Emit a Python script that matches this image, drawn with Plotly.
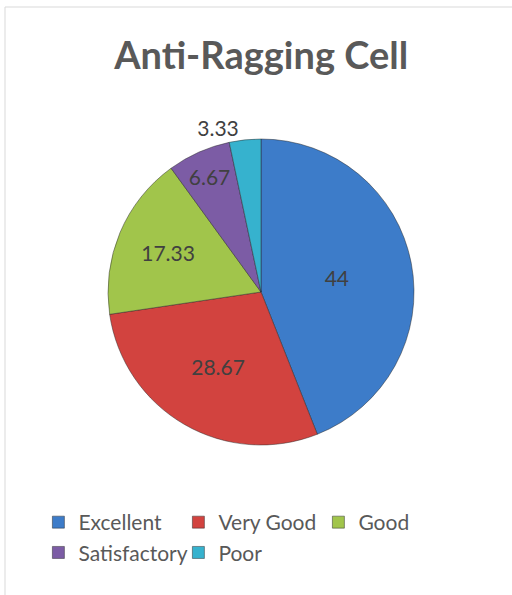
import plotly.graph_objects as go

categories = ["Excellent", "Very Good", "Good", "Satisfactory", "Poor"]
values = [44, 28.67, 17.33, 6.67, 3.33]
colors = ["#3D7CC9", "#D2433F", "#A1C54B", "#7C5CA5", "#36B2CE"]

W, H = 512, 595
cx, cy, r = 261, 292, 153

fig = go.Figure(go.Pie(
    labels=categories,
    values=values,
    sort=False,
    direction="clockwise",
    rotation=0,
    marker=dict(colors=colors, line=dict(color="rgba(40,40,40,0.6)", width=0.8)),
    texttemplate="%{value}",
    textposition="auto",
    insidetextorientation="horizontal",
    textfont=dict(family="Lato, Open Sans, sans-serif", size=21, color="#404040"),
    outsidetextfont=dict(family="Lato, Open Sans, sans-serif", size=21, color="#404040"),
    domain=dict(x=[(cx - r) / W, (cx + r) / W], y=[(H - cy - r) / H, (H - cy + r) / H]),
    hoverinfo="label+value",
))

fig.update_layout(
    width=W, height=H,
    margin=dict(l=0, r=0, t=0, b=0),
    paper_bgcolor="white",
    title=dict(text="<b>Anti-Ragging Cell</b>", x=0.51, xanchor="center", y=1 - 56 / H, yanchor="middle",
               font=dict(family="Lato, Open Sans, sans-serif", size=38, color="#595959")),
    showlegend=True,
    legend=dict(orientation="h", x=0.075, xanchor="left", y=1 - 502 / H, yanchor="top",
                entrywidth=95, entrywidthmode="pixels", traceorder="normal",
                font=dict(family="Lato, Open Sans, sans-serif", size=21, color="#595959")),
    shapes=[
        dict(type="line", xref="paper", yref="paper", x0=5 / W, x1=1, y0=1 - 7 / H, y1=1 - 7 / H,
             line=dict(color="#d9d9d9", width=1)),
        dict(type="line", xref="paper", yref="paper", x0=5 / W, x1=5 / W, y0=0, y1=1 - 7 / H,
             line=dict(color="#d9d9d9", width=1)),
    ],
)

fig.write_html("out.html", config={"displayModeBar": False},
               post_script="document.body.style.margin='0';")
